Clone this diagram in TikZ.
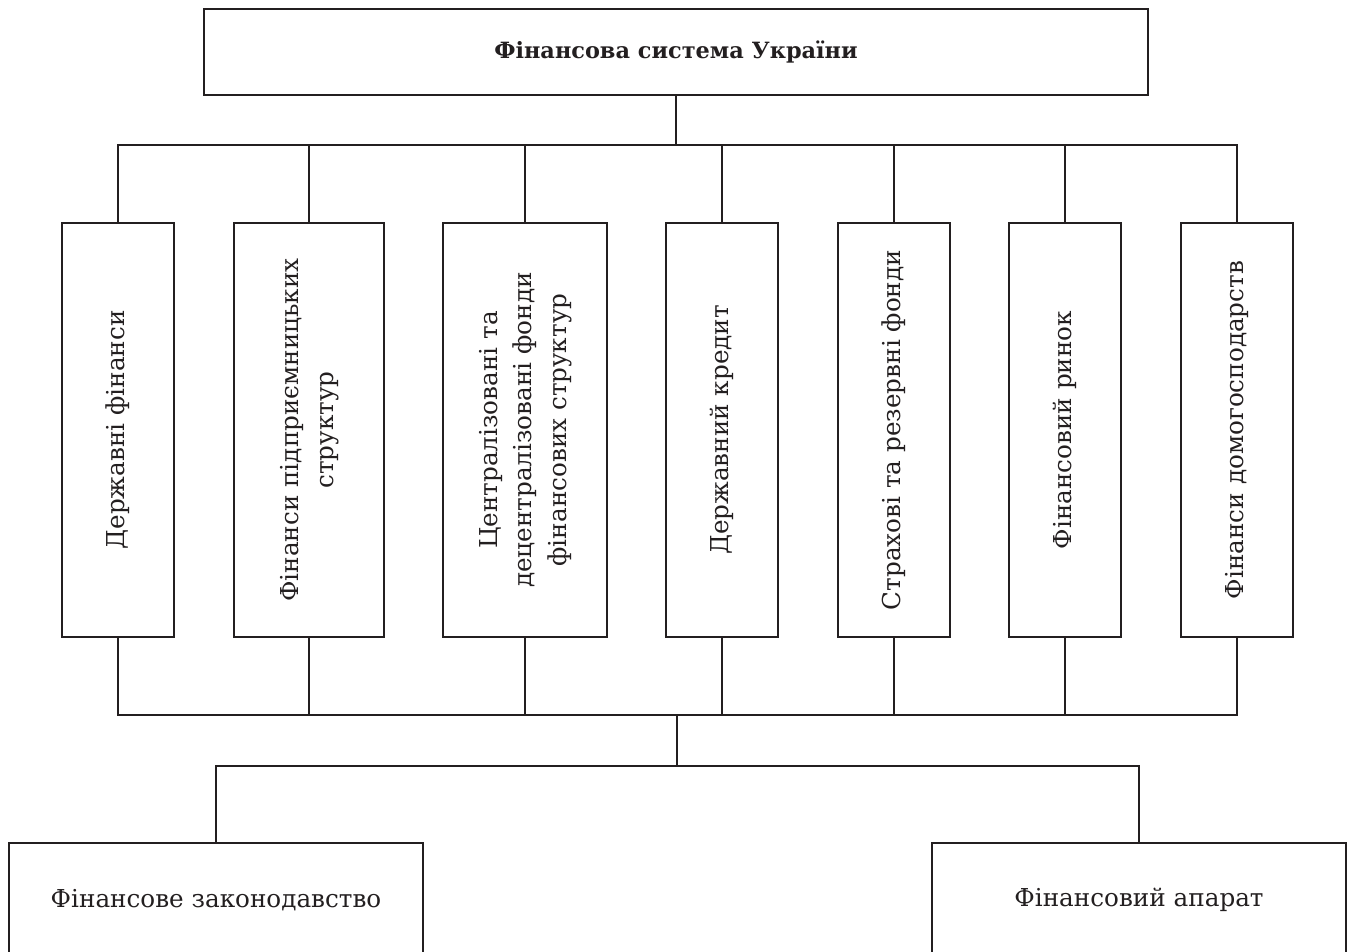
\documentclass[tikz,border=0pt]{standalone}
\usepackage{fontspec}
\setmainfont{DejaVu Serif}
\definecolor{ink}{HTML}{231F20}
\newcommand{\vtxt}[1]{\rotatebox{90}{\fontsize{18.5}{26}\selectfont\begin{tabular}{@{}c@{}}#1\end{tabular}}}
\begin{document}
\begin{tikzpicture}[x=0.75pt,y=-0.75pt,
  box/.style={draw=ink, line width=1.2pt, inner sep=0pt, align=center, text=ink},
  vbox/.style={box, minimum width=84pt, minimum height=310.5pt},
  lowbox/.style={box, minimum width=310.5pt, minimum height=85.5pt, font=\fontsize{18.5}{22}\selectfont},
  conn/.style={draw=ink, line width=1.2pt}]
\clip (0,0) rectangle (1348,952);
\node[box, minimum width=708pt, minimum height=64.5pt, font=\fontsize{16.8}{20}\selectfont\bfseries] (top) at (676,52) {Фінансова система України};
\node[vbox] (v1) at (118,430) {\vtxt{Державні фінанси}};
\node[vbox, minimum width=112.5pt] (v2) at (309,430) {\vtxt{Фінанси підприємницьких\\структур}};
\node[vbox, minimum width=123pt] (v3) at (525,430) {\vtxt{Централізовані та\\децентралізовані фонди\\фінансових структур}};
\node[vbox] (v4) at (722,430) {\vtxt{Державний кредит}};
\node[vbox] (v5) at (894,430) {\vtxt{Страхові та резервні фонди}};
\node[vbox] (v6) at (1065,430) {\vtxt{Фінансовий ринок}};
\node[vbox] (v7) at (1237,430) {\vtxt{Фінанси домогосподарств}};
\node[lowbox] (law) at (216,900) {Фінансове законодавство};
\node[lowbox] (app) at (1139,900) {Фінансовий апарат};
\coordinate (busA) at (676,145);
\coordinate (busB) at (677,715);
\coordinate (busC) at (677,766);
\draw[conn] (top.south) -- (busA);
\draw[conn] (v1.north) |- (busA) -| (v7.north);
\foreach \i in {2,...,6} {
  \draw[conn] (v\i.north) -- (v\i.north |- busA);
  \draw[conn] (v\i.south) -- (v\i.south |- busB);
}
\draw[conn] (v1.south) |- (busB) -| (v7.south);
\draw[conn] (busB) -- (busC);
\draw[conn] (law.north) |- (busC) -| (app.north);
\end{tikzpicture}
\end{document}
